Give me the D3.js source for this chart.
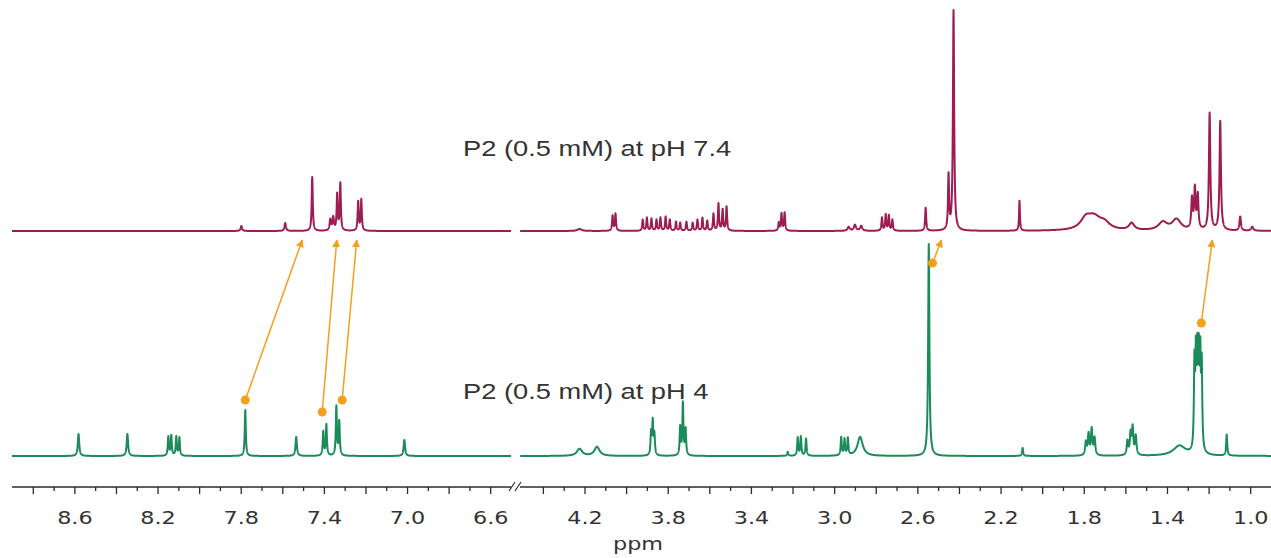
<!DOCTYPE html>
<meta charset="utf-8">
<head>
  <title>P2 (0.5 mM) at pH 7.4 and pH 4</title>
  <script type="text/javascript" src="https://cdn.jsdelivr.net/npm/d3@7"></script>
  <style>
    body {margin: 0; background: #fff;}
    .label {font-family: "Liberation Sans", Arial, sans-serif; font-size: 22px; fill: #333;}
    .tick text, .unit {font-family: "DejaVu Sans", Verdana, sans-serif; font-size: 18px; fill: #333;}
  </style>
</head>
<body>
<div id="spectrum"></div>
<script>

// peaks: [ppm, intensity, half width (ppm)]
var topAromatic = [
  [7.797, 5, 0.004], [7.586, 8, 0.004], [7.456, 54, 0.003],
  [7.369, 11, 0.004], [7.355, 13, 0.004], [7.336, 36, 0.003], [7.321, 47, 0.003],
  [7.235, 29, 0.003], [7.220, 31, 0.003]
];
var topAliphatic = [
  [4.224, 2, 0.012], [4.065, 15, 0.003], [4.051, 17, 0.003],
  [3.920, 11, 0.003], [3.900, 13, 0.003], [3.878, 12, 0.003], [3.854, 11, 0.003],
  [3.835, 13, 0.003], [3.810, 14, 0.003], [3.790, 11, 0.003], [3.760, 9, 0.003],
  [3.740, 8, 0.003], [3.710, 9, 0.003], [3.680, 8, 0.003], [3.657, 11, 0.003],
  [3.633, 13, 0.003], [3.610, 10, 0.003], [3.580, 17, 0.003], [3.556, 27, 0.003],
  [3.536, 21, 0.003], [3.517, 24, 0.003],
  [3.266, 8, 0.003], [3.253, 17, 0.003], [3.238, 18, 0.003],
  [2.930, 4, 0.006], [2.900, 6, 0.006], [2.870, 5, 0.006],
  [2.770, 13, 0.003], [2.752, 16, 0.003], [2.737, 15, 0.003], [2.720, 11, 0.003],
  [2.560, 23, 0.003], [2.450, 54, 0.003], [2.426, 220, 0.0035],
  [2.109, 30, 0.0025],
  [1.790, 10, 0.03], [1.750, 12, 0.04], [1.700, 6, 0.03],
  [1.570, 7, 0.015], [1.420, 8, 0.025], [1.354, 11, 0.025],
  [1.280, 30, 0.004], [1.266, 40, 0.004], [1.252, 34, 0.004],
  [1.195, 117, 0.004], [1.144, 109, 0.004],
  [1.048, 14, 0.004], [0.990, 4, 0.006]
];
var bottomAromatic = [
  [8.580, 22, 0.004], [8.345, 22, 0.004],
  [8.148, 19, 0.003], [8.134, 20, 0.003], [8.110, 19, 0.003], [8.095, 18, 0.003],
  [7.778, 46, 0.003], [7.533, 19, 0.004],
  [7.403, 24, 0.003], [7.388, 31, 0.003], [7.340, 49, 0.003], [7.326, 34, 0.003],
  [7.013, 16, 0.004]
];
var bottomAliphatic = [
  [4.224, 7, 0.015], [4.140, 9, 0.015],
  [3.880, 22, 0.003], [3.872, 33, 0.003], [3.864, 20, 0.003],
  [3.740, 28, 0.003], [3.727, 52, 0.003], [3.714, 26, 0.003],
  [3.223, 4, 0.003], [3.175, 18, 0.003], [3.160, 19, 0.003], [3.135, 17, 0.003],
  [2.966, 18, 0.003], [2.950, 16, 0.003], [2.934, 17, 0.003], [2.875, 19, 0.015],
  [2.545, 212, 0.0035], [2.094, 8, 0.003],
  [1.790, 13, 0.004], [1.777, 21, 0.004], [1.762, 26, 0.004], [1.748, 17, 0.004],
  [1.590, 14, 0.004], [1.575, 21, 0.004], [1.565, 27, 0.004], [1.550, 19, 0.004],
  [1.340, 10, 0.035],
  [1.268, 84, 0.003], [1.261, 86, 0.003], [1.254, 86, 0.003], [1.247, 86, 0.003],
  [1.240, 86, 0.003], [1.233, 82, 0.003],
  [1.113, 21, 0.003]
];

var spectrumLabels = ["P2 (0.5 mM) at pH 7.4", "P2 (0.5 mM) at pH 4"];
var leftLabels = [8.6, 8.2, 7.8, 7.4, 7.0, 6.6];
var rightLabels = [4.2, 3.8, 3.4, 3.0, 2.6, 2.2, 1.8, 1.4, 1.0];

// shift arrows: [ppm at pH 4, dot height over pH 4 baseline, ppm at pH 7.4]
var shifts = [
  [7.778, 56, 7.504], [7.408, 44, 7.338], [7.312, 56, 7.242],
  [2.527, 193, 2.484], [1.235, 133, 1.182]
];

var width = 1271, height = 558;
var stretch = 1.24;   // the figure is drawn a bit wide

var svg = d3.select("#spectrum").append("svg")
    .attr("width", width)
    .attr("height", height);

// two pieces of the broken ppm axis, same px per ppm
var xLeft = d3.scaleLinear().domain([8.9, 6.5]).range([12, 511]);
var xRight = d3.scaleLinear().domain([4.51, 0.9]).range([520, 1271]);

var yTop = d3.scaleLinear().domain([0, 100]).range([231, 131]);
var yBottom = d3.scaleLinear().domain([0, 100]).range([456, 356]);

var colors = {top: "#9d1c52", bottom: "#1b8c59", shift: "#f5a01c", ink: "#2b2b2b"};

// sum of lorentzian lines over a ppm window
function trace(peaks, domain) {
  var pts = d3.range(domain[1], domain[0], 0.0005);
  return pts.map(function(p) {
    var s = 0;
    peaks.forEach(function(k) {
      var dx = p - k[0];
      s += k[1] * k[2] * k[2] / (dx * dx + k[2] * k[2]);
    });
    return [p, s];
  });
}

function drawTrace(peaks, x, y, color) {
  var line = d3.line()
      .x(function(d) { return x(d[0]); })
      .y(function(d) { return y(d[1]); });
  svg.append("path")
     .datum(trace(peaks, x.domain()))
     .attr("d", line)
     .attr("fill", "none")
     .attr("stroke", color)
     .attr("stroke-width", 2)
     .attr("stroke-linejoin", "round");
}

drawTrace(topAromatic, xLeft, yTop, colors.top);
drawTrace(topAliphatic, xRight, yTop, colors.top);
drawTrace(bottomAromatic, xLeft, yBottom, colors.bottom);
drawTrace(bottomAliphatic, xRight, yBottom, colors.bottom);

// spectrum names
svg.selectAll(".label")
   .data(spectrumLabels)
   .enter()
   .append("text")
   .attr("class", "label")
   .attr("transform", function(d, i) {
      return "translate(463," + (i == 0 ? 156 : 399) + ") scale(" + stretch + ",1)";
   })
   .text(function(d) { return d; });

// chemical shift arrows
svg.append("defs").append("marker")
   .attr("id", "head")
   .attr("viewBox", "0 0 10 10")
   .attr("refX", 9).attr("refY", 5)
   .attr("markerUnits", "userSpaceOnUse")
   .attr("markerWidth", 8).attr("markerHeight", 8)
   .attr("orient", "auto")
   .append("path")
   .attr("d", "M0,0L10,5L0,10z")
   .attr("fill", colors.shift);

function xOf(p) { return p > 5 ? xLeft(p) : xRight(p); }

var arrows = svg.append("g");
arrows.selectAll("line")
   .data(shifts)
   .enter()
   .append("line")
   .attr("x1", function(d) { return xOf(d[0]); })
   .attr("y1", function(d) { return yBottom(d[1]); })
   .attr("x2", function(d) { return xOf(d[2]); })
   .attr("y2", yTop(-9))
   .attr("stroke", colors.shift)
   .attr("stroke-width", 1.5)
   .attr("marker-end", "url(#head)");
arrows.selectAll("circle")
   .data(shifts)
   .enter()
   .append("circle")
   .attr("cx", function(d) { return xOf(d[0]); })
   .attr("cy", function(d) { return yBottom(d[1]); })
   .attr("r", 4.5)
   .attr("fill", colors.shift);

// axis
var axisY = 487;

function drawAxis(x, labels) {
  var lo = Math.round(x.domain()[1] * 10), hi = Math.round(x.domain()[0] * 10);
  var all = d3.range(lo + 1, hi).map(function(d) { return d / 10; });
  var minor = all.filter(function(d) { return Math.round(d * 10) % 2 != 0; });
  var major = all.filter(function(d) { return Math.round(d * 10) % 2 == 0; });

  svg.append("g")
     .attr("transform", "translate(0," + axisY + ")")
     .call(d3.axisBottom(x).tickValues(minor).tickSize(4).tickFormat(""))
     .call(function(g) { g.select(".domain").remove(); });

  var g = svg.append("g")
     .attr("transform", "translate(0," + axisY + ")")
     .call(d3.axisBottom(x).tickValues(major).tickSize(7).tickPadding(17)
           .tickFormat(function(d) {
              return labels.some(function(l) { return Math.abs(l - d) < 1e-6; }) ? d3.format(".1f")(d) : "";
           }));
  g.select(".domain").remove();
  g.selectAll(".tick text").attr("transform", "scale(" + stretch + ",1)");
  svg.selectAll(".tick line").attr("stroke", colors.ink).attr("stroke-width", 1.3);

  svg.append("line")
     .attr("x1", x.range()[0]).attr("x2", x.range()[1])
     .attr("y1", axisY).attr("y2", axisY)
     .attr("stroke", colors.ink)
     .attr("stroke-width", 1.6);
}

drawAxis(xLeft, leftLabels);
drawAxis(xRight, rightLabels);

// break marks
[509, 515].forEach(function(bx) {
  svg.append("line")
     .attr("x1", bx).attr("y1", axisY + 4)
     .attr("x2", bx + 6).attr("y2", axisY - 5)
     .attr("stroke", colors.ink)
     .attr("stroke-width", 1.2);
});

svg.append("text")
   .attr("class", "unit")
   .attr("text-anchor", "middle")
   .attr("transform", "translate(638,550) scale(" + stretch + ",1)")
   .text("ppm");

</script>
</body>
</html>
